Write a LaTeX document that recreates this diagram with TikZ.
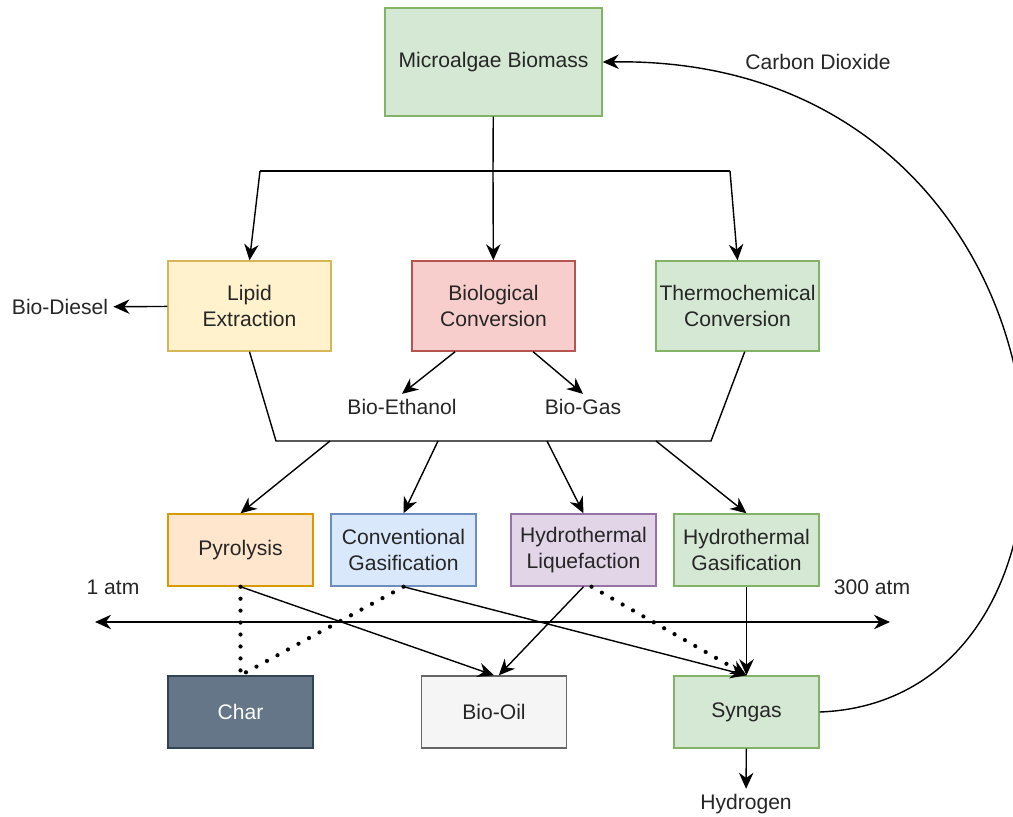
\documentclass[tikz,border=0pt]{standalone}
\usepackage{fontspec}
\setmainfont{Liberation Sans}
\usetikzlibrary{arrows.meta}
\definecolor{greenfill}{HTML}{D5E8D4}
\definecolor{greenline}{HTML}{82B366}
\definecolor{yellowfill}{HTML}{FFF2CC}
\definecolor{yellowline}{HTML}{D6B656}
\definecolor{redfill}{HTML}{F8CECC}
\definecolor{redline}{HTML}{B85450}
\definecolor{orangefill}{HTML}{FFE6CC}
\definecolor{orangeline}{HTML}{D79B00}
\definecolor{bluefill}{HTML}{DAE8FC}
\definecolor{blueline}{HTML}{6C8EBF}
\definecolor{purplefill}{HTML}{E1D5E7}
\definecolor{purpleline}{HTML}{9673A6}
\definecolor{greyfill}{HTML}{F5F5F5}
\definecolor{greyline}{HTML}{666666}
\definecolor{slatefill}{HTML}{647687}
\definecolor{slateline}{HTML}{314354}
\tikzset{
  every picture/.style={line width=1pt, x=0.025cm, y=-0.025cm},
  every node/.style={font=\fontsize{15}{18.5}\selectfont, text=black!85},
  box/.style={draw=#1line, fill=#1fill, align=center, inner sep=2pt},
  lg/.style={minimum width=4.075cm, minimum height=2.25cm},
  sm/.style={minimum width=3.625cm, minimum height=1.8cm},
  tip/.tip={Stealth[length=4mm, width=3.6mm, inset=1.3mm, line width=1pt]},
  arrow/.style={-tip},
  dotline/.style={line width=3pt, line cap=round, dash pattern=on 0pt off 8.5pt},
}

\begin{document}
\begin{tikzpicture}
  \useasboundingbox (0,0) rectangle (1013,816);
  % source
  \node[box=green, minimum width=5.425cm, minimum height=2.7cm] (bio) at (493.5,62) {Microalgae Biomass};
  \node (co2) at (818,62) {Carbon Dioxide};
  % conversion routes
  \node[box=yellow, lg] (lipid) at (249.5,306) {Lipid\\Extraction};
  \node[box=red, lg] (biol) at (493.5,306) {Biological\\Conversion};
  \node[box=green, lg] (thermo) at (737.5,306) {Thermochemical\\Conversion};
  \coordinate (split) at (493,171);
  \coordinate (splitL) at (260,171);
  \coordinate (splitR) at (730,171);
  \draw (bio) -- (split);
  \draw (splitL) -- (splitR);
  \draw[arrow] (splitL) -- (lipid.north);
  \draw[arrow] (split) -- (biol);
  \draw[arrow] (splitR) -- (thermo.north);
  % side products
  \node (diesel) at (60,307) {Bio-Diesel};
  \node (ethanol) at (402,407) {Bio-Ethanol};
  \node (biogas) at (583,407) {Bio-Gas};
  \draw[arrow] (lipid) -- (diesel);
  \draw[arrow] ([xshift=-0.96cm]biol.south) -- (ethanol.north);
  \draw[arrow] ([xshift=0.99cm]biol.south) -- (biogas.north);
  % thermochemical processes
  \node[box=orange, sm] (pyro) at (240.5,550) {Pyrolysis};
  \node[box=blue, sm] (cgas) at (403.5,550) {Conventional\\Gasification};
  \node[box=purple, sm] (hliq) at (583.5,550) {Hydrothermal\\Liquefaction};
  \node[box=green, sm] (hgas) at (746.5,550) {Hydrothermal\\Gasification};
  \coordinate (trapL) at (276,441);
  \coordinate (trapR) at (711,441);
  \draw (lipid.south) -- (trapL) -- (trapR) -- ([xshift=0.18cm]thermo.south);
  \coordinate (t1) at (330,441);
  \coordinate (t2) at (438,441);
  \coordinate (t3) at (547,441);
  \coordinate (t4) at (656,441);
  \draw[arrow] (t1) -- (pyro.north);
  \draw[arrow] (t2) -- (cgas.north);
  \draw[arrow] (t3) -- (hliq.north);
  \draw[arrow] (t4) -- (hgas.north);
  % pressure axis
  \node (atm1) at (113,587) {1 atm};
  \node (atm300) at (872,587) {300 atm};
  \coordinate (axL) at (95,622);
  \coordinate (axR) at (890,622);
  \draw[tip-tip] (axL) -- (axR);
  % products
  \node[box=slate, sm, text=white] (char) at (240.5,712) {Char};
  \node[box=grey, sm] (oil) at (494,712) {Bio-Oil};
  \node[box=green, sm] (syngas) at (746.5,712) {Syngas};
  \node (hydrogen) at (746,804) {Hydrogen};
  \draw[arrow] (syngas) -- (hydrogen);
  \draw[dotline] (pyro.south) -- (char.north);
  \draw[dotline] (cgas.south) -- (char.north);
  \draw[arrow] (pyro.south) -- (oil.north);
  \draw[arrow] (hliq.south) -- ([xshift=0.12cm]oil.north);
  \draw[arrow] (cgas.south) -- (syngas.north);
  \draw[dotline, arrow] ([xshift=0.2cm]hliq.south) -- (syngas.north);
  \draw[arrow] (hgas) -- (syngas);
  % recycle
  \draw[arrow] (syngas.east) .. controls (1140,700) and (1095,55) .. (bio.east);
\end{tikzpicture}
\end{document}
